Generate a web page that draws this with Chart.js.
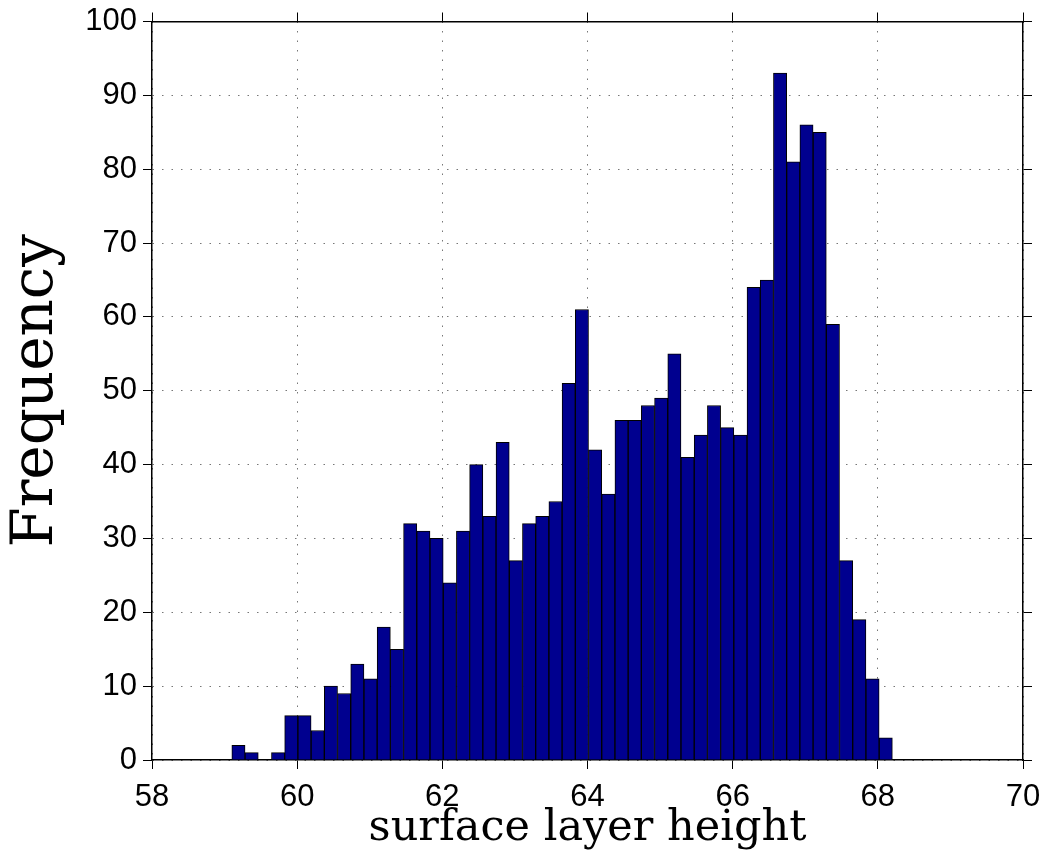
<!DOCTYPE html>
<html>
<head>
<meta charset="utf-8">
<script src="https://cdn.jsdelivr.net/npm/chart.js@4"></script>
<style>
  body { margin: 0; background: #fff; }
  #wrap { width: 1046px; height: 856px; }
</style>
</head>
<body>
<div id="wrap"><canvas id="histChart" width="1046" height="856"></canvas></div>
<script>
const binCenters = [
  59.191, 59.373, 59.555, 59.737, 59.919, 60.101, 60.283, 60.465, 60.647, 60.829,
  61.011, 61.193, 61.375, 61.557, 61.739, 61.921, 62.103, 62.285, 62.467, 62.649,
  62.831, 63.013, 63.195, 63.377, 63.559, 63.741, 63.923, 64.105, 64.287, 64.469,
  64.651, 64.833, 65.015, 65.197, 65.379, 65.561, 65.743, 65.925, 66.107, 66.289,
  66.471, 66.653, 66.835, 67.017, 67.199, 67.381, 67.563, 67.745, 67.927, 68.109
];
const counts = [
  2, 1, 0, 1, 6, 6, 4, 10, 9, 13,
  11, 18, 15, 32, 31, 30, 24, 31, 40, 33,
  43, 27, 32, 33, 35, 51, 61, 42, 36, 46,
  46, 48, 49, 55, 41, 44, 48, 45, 44, 64,
  65, 93, 81, 86, 85, 59, 27, 19, 11, 3
];
const xRange = [58, 70];
const yRange = [0, 100];
const xStep = 2;
const yStep = 10;

const tickFont = { family: 'Liberation Sans', size: 31 };
const titleFont = { family: 'DejaVu Serif', size: 43 };

const points = binCenters.map((x, i) => ({ x: x, y: counts[i] }));

function mainGrid() {
  return { color: '#777', lineWidth: 1, tickColor: '#000', tickLength: 9, tickWidth: 1, offset: false };
}

// fixed box sizes so the plot area lands where the original axes are
function fixSize(w, h) {
  return s => {
    if (w != null) s.width = w;
    if (h != null) s.height = h;
    s.paddingLeft = 0; s.paddingRight = 0; s.paddingTop = 0; s.paddingBottom = 0;
  };
}

const config = {
  type: 'bar',
  data: {
    datasets: [{
      label: 'Frequency',
      data: points,
      backgroundColor: '#00008f',
      borderColor: '#000',
      borderWidth: 1,
      barPercentage: 1,
      categoryPercentage: 1
    }]
  },
  options: {
    responsive: false,
    animation: false,
    devicePixelRatio: 1,
    layout: { padding: 0 },
    plugins: { legend: { display: false }, tooltip: { enabled: false } },
    scales: {
      x: {
        type: 'linear', position: 'bottom', offset: false,
        min: xRange[0], max: xRange[1],
        ticks: { stepSize: xStep, font: tickFont, color: '#000', padding: 10, maxRotation: 0 },
        grid: mainGrid(),
        border: { color: '#000', width: 1.5, dash: [1.5, 8] },
        title: { display: true, text: 'surface layer height', color: '#000', font: titleFont, padding: { top: 0, bottom: 1 } },
        afterFit: fixSize(null, 96)
      },
      y: {
        type: 'linear', position: 'left',
        min: yRange[0], max: yRange[1],
        ticks: { stepSize: yStep, font: tickFont, color: '#000', padding: 6 },
        grid: mainGrid(),
        border: { color: '#000', width: 1.5, dash: [1.5, 8] },
        title: { display: true, text: 'Frequency', color: '#000', font: { family: 'DejaVu Serif', size: 58 }, padding: { top: 2, bottom: 0 } },
        afterFit: fixSize(152, null)
      },
      x2: {
        type: 'linear', position: 'top', offset: false,
        min: xRange[0], max: xRange[1],
        ticks: { stepSize: xStep, display: false },
        grid: { drawOnChartArea: false, offset: false, color: '#000', tickColor: '#000', tickLength: 9 },
        border: { color: '#000', width: 1.5 },
        afterFit: fixSize(null, 21.5)
      },
      y2: {
        type: 'linear', position: 'right',
        min: yRange[0], max: yRange[1],
        ticks: { stepSize: yStep, display: false },
        grid: { drawOnChartArea: false, color: '#000', tickColor: '#000', tickLength: 9 },
        border: { color: '#000', width: 1.5 },
        afterFit: fixSize(23, null)
      }
    }
  }
};

const histChart = new Chart(document.getElementById('histChart'), config);
</script>
</body>
</html>
